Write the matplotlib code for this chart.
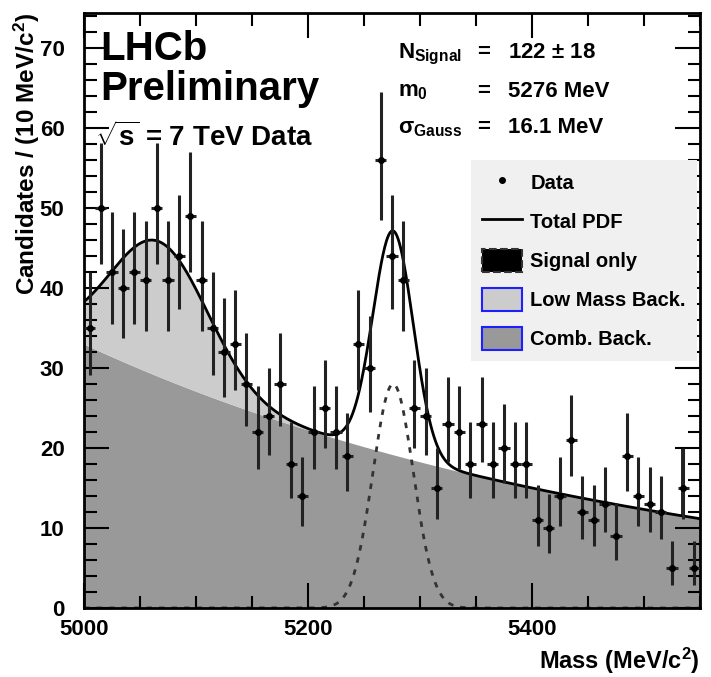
import numpy as np
import matplotlib
matplotlib.use('Agg')
from matplotlib import pyplot as plt
from matplotlib.lines import Line2D
from matplotlib.patches import Patch

# 10 MeV bins, candidate counts
mass = np.arange(5005, 5550, 10)
counts = np.array([35, 50, 42, 40, 42, 41, 50, 41, 44, 49,
                   41, 35, 32, 33, 28, 22, 24, 28, 18, 14,
                   22, 25, 22, 19, 33, 30, 56, 44, 41, 25,
                   24, 15, 23, 22, 18, 23, 18, 20, 18, 18,
                   11, 10, 14, 21, 12, 11, 13, 9, 19, 14,
                   13, 12, 5, 15, 5])

# fit components (per 10 MeV)
comb_norm, comb_slope = 33.0, -0.00197      # exponential, value at 5000
low_peak, low_mu, low_sigma = 16.9, 5067.0, 44.0
sig_peak, sig_mu, sig_sigma = 28.0, 5276.0, 18.0

fit_text = [(r'$\mathbf{N_{Signal}}$', r'122 $\mathbf{\pm}$ 18'),
            (r'$\mathbf{m_{0}}$', '5276 MeV'),
            (r'$\mathbf{\sigma_{Gauss}}$', '16.1 MeV')]

plt.rcParams['font.family'] = ['Liberation Sans', 'DejaVu Sans']
plt.rcParams['font.weight'] = 'bold'
plt.rcParams['axes.labelweight'] = 'bold'
plt.rcParams['mathtext.fontset'] = 'custom'
plt.rcParams['mathtext.rm'] = 'Liberation Sans:bold'
plt.rcParams['mathtext.bf'] = 'Liberation Sans:bold'
plt.rcParams['mathtext.it'] = 'Liberation Sans:bold'
plt.rcParams['mathtext.sf'] = 'Liberation Sans:bold'


def comb(m):
    return comb_norm * np.exp(comb_slope * (m - 5000))


def low(m):
    return low_peak * np.exp(-0.5 * ((m - low_mu) / low_sigma) ** 2)


def sig(m):
    return sig_peak * np.exp(-0.5 * ((m - sig_mu) / sig_sigma) ** 2)


# asymmetric poisson errors (Wilson-Hilferty approximation of chi2 quantiles)
n = counts.astype(float)
err_lo = n - n * (1 - 1 / (9 * n) - 1 / (3 * np.sqrt(n))) ** 3
err_hi = (n + 1) * (1 - 1 / (9 * (n + 1)) + 1 / (3 * np.sqrt(n + 1))) ** 3 - n

fig = plt.figure(figsize=(7.11, 6.77), dpi=100)
ax = fig.add_axes([84 / 711, 69 / 677, 616 / 711, 595 / 677])

m = np.linspace(5000, 5550, 1101)
ax.fill_between(m, 0, comb(m), color='#999999', lw=0, zorder=1)
ax.fill_between(m, comb(m), comb(m) + low(m), color='#cccccc', lw=0, zorder=1)
ax.plot(m, sig(m), color='#333333', ls=(0, (2, 2.5)), lw=2, zorder=2)
ax.plot(m, comb(m) + low(m) + sig(m), color='black', lw=2, zorder=3)
ax.plot([5534, 5534, 5550], [comb(5534), 20, 20], color='black', lw=1.2, zorder=3)

ax.errorbar(mass, counts, yerr=[err_lo, err_hi], xerr=5, fmt='o', ms=4,
            color='black', ecolor='#222222', elinewidth=2.2, capsize=0, zorder=4)

ax.set_xlim(5000, 5550)
ax.set_ylim(0, 74.4)
ax.set_xticks([5000, 5200, 5400])
ax.set_xticks(np.arange(5000, 5551, 50), minor=True)
ax.set_yticks(np.arange(0, 71, 10))
ax.set_yticks(np.arange(0, 75, 2), minor=True)
ax.tick_params(which='both', direction='in', top=True, right=True, width=1.5)
ax.tick_params(which='major', length=18, labelsize=16)
ax.tick_params(which='minor', length=9)
ax.tick_params(axis='x', pad=8)
ax.tick_params(axis='y', pad=14)
for s in ax.spines.values():
    s.set_linewidth(2)

ax.set_xlabel('Mass (MeV/c$\\mathbf{^2}$)', fontsize=17, loc='right')
ax.xaxis.set_label_coords(1.0, -0.063)
ax.set_ylabel('Candidates / (10 MeV/c$\\mathbf{^2}$)', fontsize=17.5, loc='top')
ax.yaxis.set_label_coords(-0.068, 1.0)

ax.text(0.026, 0.921, 'LHCb', fontsize=29, transform=ax.transAxes)
ax.text(0.026, 0.854, 'Preliminary', fontsize=29, transform=ax.transAxes)
ax.text(0.018, 0.776, r'$\mathbf{\sqrt{s}}$ = 7 TeV Data', fontsize=20,
        transform=ax.transAxes)

for i, (name, val) in enumerate(fit_text):
    y = [0.924, 0.859, 0.798][i]
    ax.text(0.51, y, name, fontsize=16, transform=ax.transAxes)
    ax.text(0.638, y, '=', fontsize=16, transform=ax.transAxes)
    ax.text(0.688, y, val, fontsize=16, transform=ax.transAxes)

handles = [Line2D([], [], color='black', marker='o', ms=4, ls='none'),
           Line2D([], [], color='black', lw=2),
           Patch(facecolor='black', edgecolor='#333333', ls='--', lw=1.5),
           Patch(facecolor='#cccccc', edgecolor='#2020ff', lw=1.5),
           Patch(facecolor='#999999', edgecolor='#2020ff', lw=1.5)]
labels = ['Data', 'Total PDF', 'Signal only', 'Low Mass Back.', 'Comb. Back.']
leg = ax.legend(handles, labels, loc='upper right', bbox_to_anchor=(0.995, 0.753),
                fontsize=14.5, frameon=True, fancybox=False, facecolor='#f0f0f0',
                edgecolor='none', framealpha=1, labelspacing=0.78,
                handlelength=2.0, handleheight=1.4, handletextpad=0.4,
                borderpad=0.55, borderaxespad=0)
leg.set_zorder(5)

fig.savefig('out.png', dpi=100)
